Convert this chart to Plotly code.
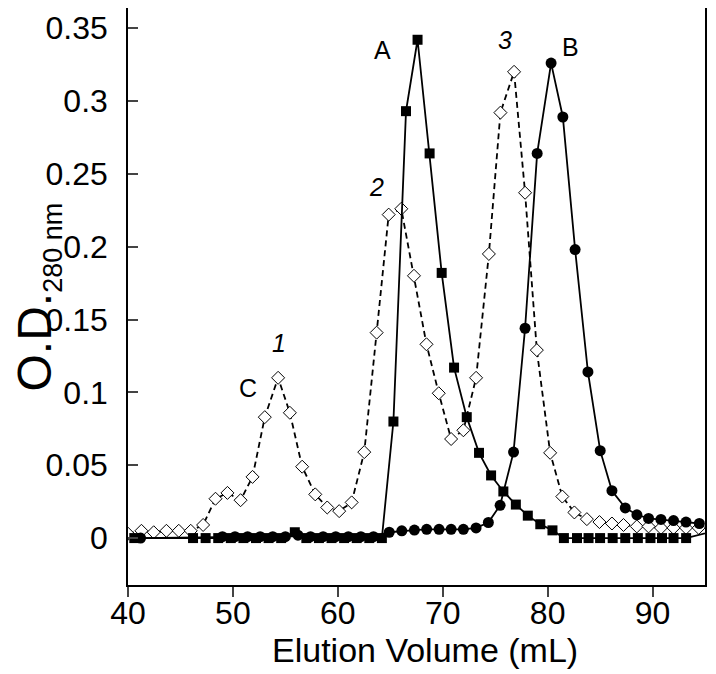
import plotly.graph_objects as go

# Series A (filled squares)
a_x = [40.6, 46.2, 47.4, 48.6, 49.8, 51.0, 52.2, 53.4, 54.6, 55.9, 57.0, 58.2, 59.4, 60.6, 61.8, 63.0,
       64.2, 65.3, 66.5, 67.6, 68.75, 69.9, 71.08, 72.29, 73.46, 74.61, 75.78, 76.97, 78.11, 79.3, 80.46,
       81.55, 82.8, 83.9, 85.0, 86.2, 87.4, 88.6, 89.8, 90.9, 92.0, 93.2, 96.5]
a_y = [0, 0, 0, 0, 0, 0, 0, 0, 0, 0.004, 0, 0, 0, 0, 0, 0,
       0, 0.080, 0.293, 0.342, 0.264, 0.182, 0.117, 0.083, 0.0585, 0.043, 0.032, 0.023, 0.0154, 0.0095, 0.0053,
       0, 0, 0, 0, 0, 0, 0, 0, 0, 0, 0, 0.006]

# Series B (filled circles)
b_x = [41.2, 49.0, 50.2, 51.4, 52.6, 53.8, 55.0, 56.2, 57.4, 58.6, 59.8, 61.0, 62.2, 63.4,
       64.9, 66.1, 67.3, 68.47, 69.65, 70.8, 71.97, 73.18, 74.35, 75.47, 76.75, 77.85, 79.0,
       80.33, 81.45, 82.62, 83.84, 85.01, 86.13, 87.4, 88.51, 89.62, 90.8, 92.0, 93.19, 94.46]
b_y = [0, 0.001, 0.001, 0.001, 0.001, 0.001, 0.001, 0.002, 0.001, 0.001, 0.001, 0.001, 0.001, 0.001,
       0.004, 0.005, 0.0055, 0.006, 0.006, 0.006, 0.006, 0.007, 0.0107, 0.0225, 0.059, 0.144, 0.264,
       0.326, 0.289, 0.198, 0.114, 0.060, 0.0325, 0.0207, 0.016, 0.0135, 0.0128, 0.012, 0.011, 0.010]

# Series C (open diamonds, dashed)
c_x = [40.0, 41.28, 42.45, 43.66, 44.84, 45.98, 47.16, 48.34, 49.48, 50.73, 51.87, 53.04, 54.31, 55.43,
       56.6, 57.85, 58.99, 60.13, 61.32, 62.52, 63.7, 64.85, 66.05, 67.26, 68.45, 69.62, 70.8, 71.97,
       73.18, 74.4, 75.5, 76.8, 77.85, 78.97, 80.24, 81.4, 82.55, 83.74, 84.94, 86.13, 87.23, 88.5,
       89.62, 90.8, 92.0, 93.19, 94.4]
c_y = [0.003, 0.005, 0.004, 0.005, 0.005, 0.005, 0.009, 0.027, 0.031, 0.026, 0.042, 0.083, 0.110, 0.086,
       0.049, 0.030, 0.021, 0.0185, 0.0245, 0.059, 0.141, 0.222, 0.226, 0.180, 0.133, 0.0994, 0.068, 0.074,
       0.110, 0.195, 0.292, 0.320, 0.237, 0.129, 0.0585, 0.0285, 0.0176, 0.013, 0.011, 0.010, 0.009, 0.008,
       0.008, 0.007, 0.007, 0.007, 0.007]

x_ticks = [40, 50, 60, 70, 80, 90]
y_ticks = [0, 0.05, 0.1, 0.15, 0.2, 0.25, 0.3, 0.35]
y_tick_labels = ["0", "0.05", "0.1", "0.15", "0.2", "0.25", "0.3", "0.35"]

labels = ["A", "B", "C", "1", "2", "3"]
label_x = [64.3, 82.15, 51.42, 54.38, 63.7, 75.94]
label_y = [0.335, 0.337, 0.103, 0.134, 0.241, 0.342]
label_italic = [False, False, False, True, True, True]

FONT = "Arial, 'Liberation Sans', sans-serif"

fig = go.Figure()
fig.add_trace(go.Scatter(
    x=c_x, y=c_y, mode="lines+markers",
    line=dict(color="black", width=1.8, dash="6px,4px"),
    marker=dict(symbol="diamond", size=10, color="white", line=dict(color="black", width=1)),
))
fig.add_trace(go.Scatter(
    x=a_x, y=a_y, mode="lines+markers",
    line=dict(color="black", width=1.8),
    marker=dict(symbol="square", size=10, color="black"),
))
fig.add_trace(go.Scatter(
    x=b_x, y=b_y, mode="lines+markers",
    line=dict(color="black", width=1.8),
    marker=dict(symbol="circle", size=11, color="black"),
))

for t, lx, ly, it in zip(labels, label_x, label_y, label_italic):
    fig.add_annotation(x=lx, y=ly, text=(f"<i>{t}</i>" if it else t), showarrow=False,
                       font=dict(family=FONT, size=25, color="black"),
                       xanchor="center", yanchor="middle")

fig.add_annotation(xref="paper", yref="paper", x=0.515, y=-0.113,
                   text="Elution Volume (mL)", showarrow=False,
                   font=dict(family=FONT, size=34, color="black"),
                   xanchor="center", yanchor="middle")
fig.add_annotation(xref="paper", yref="paper", x=-0.156, y=0.5, textangle=-90,
                   text="O.D.<sub><span style='font-size:27px'>280 nm</span></sub>", showarrow=False,
                   font=dict(family=FONT, size=48, color="black"),
                   xanchor="center", yanchor="middle")

fig.update_layout(
    width=708, height=666,
    margin=dict(l=120, r=11, t=0, b=89),
    paper_bgcolor="white", plot_bgcolor="white",
    showlegend=False,
    font=dict(family=FONT, color="black"),
    xaxis=dict(range=[40, 95], tickvals=x_ticks, ticks="outside", ticklen=10, tickwidth=1.5,
               showline=True, linecolor="black", linewidth=1.5, showgrid=False, zeroline=False,
               ticklabelstandoff=-11,
               tickfont=dict(family=FONT, size=32, color="black")),
    yaxis=dict(range=[-0.0322, 0.3638], tickvals=y_ticks, ticktext=y_tick_labels, ticks="inside",
               ticklen=10, tickwidth=1.5, showline=True, mirror=True, linecolor="black", linewidth=1.5,
               showgrid=False, zeroline=False, ticklabelstandoff=12,
               tickfont=dict(family=FONT, size=32, color="black")),
)

fig.write_html("out.html")
